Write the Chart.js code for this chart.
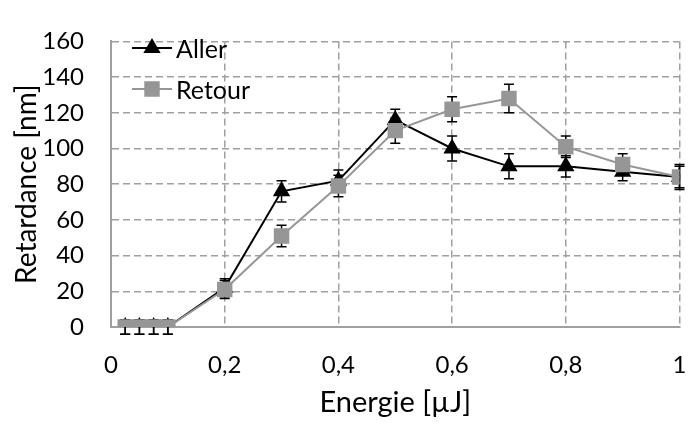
<!DOCTYPE html>
<html>
<head>
<meta charset="utf-8">
<style>
  html, body { margin: 0; padding: 0; background: #fff; }
  #wrap { width: 691px; height: 424px; }
</style>
<script src="https://cdn.jsdelivr.net/npm/chart.js@4.4.1/dist/chart.umd.min.js"></script>
</head>
<body>
<div id="wrap"><canvas id="retardChart" width="691" height="424"></canvas></div>
<script>
// Energie en µJ et retardance mesurée (nm), aller puis retour
const energie = [0.025, 0.05, 0.075, 0.1, 0.2, 0.3, 0.4, 0.5, 0.6, 0.7, 0.8, 0.9, 1.0];
const aller = [0, 0, 0, 0, 22, 76, 82, 116, 100, 90, 90, 87, 84];
const allerErr = [4, 4, 4, 4, 5, 6, 6, 6, 7, 7, 6, 5, 6];
const retour = [0, 0, 0, 0, 21, 51, 79, 110, 122, 128, 101, 91, 84];
const retourErr = [4, 4, 4, 4, 5, 6, 6, 7, 7, 8, 6, 6, 7];
const seriesNames = ['Aller', 'Retour'];

const FONT = 'Lato';
const GRIS = '#969696';
const GRILLE = '#a0a0a0';

// barres d'erreur noires avec petits chapeaux
const errorBars = {
    id: 'errorBars',
    beforeDatasetsDraw(chart) {
        const c = chart.ctx;
        const y = chart.scales.y;
        c.save();
        c.strokeStyle = '#000';
        c.lineWidth = 1.5;
        chart.data.datasets.forEach((ds, di) => {
            const meta = chart.getDatasetMeta(di);
            meta.data.forEach((pt, i) => {
                const v = ds.data[i].y, e = ds.err[i];
                const top = y.getPixelForValue(v + e);
                const bot = y.getPixelForValue(v - e);
                c.beginPath();
                c.moveTo(pt.x, top); c.lineTo(pt.x, bot);
                c.moveTo(pt.x - 5, top); c.lineTo(pt.x + 5, top);
                c.moveTo(pt.x - 5, bot); c.lineTo(pt.x + 5, bot);
                c.stroke();
            });
        });
        c.restore();
    }
};

// légende dans le coin haut gauche, comme sur Excel
const legendeInterne = {
    id: 'legendeInterne',
    afterDraw(chart) {
        const c = chart.ctx;
        const left = chart.chartArea.left + 21;
        const rows = [48, 89];
        c.save();
        chart.data.datasets.forEach((ds, di) => {
            const yy = rows[di];
            c.strokeStyle = ds.borderColor;
            c.lineWidth = 2;
            c.beginPath();
            c.moveTo(left, yy); c.lineTo(left + 40, yy);
            c.stroke();
            c.fillStyle = ds.pointBackgroundColor;
            c.strokeStyle = ds.pointBorderColor;
            Chart.helpers.drawPoint(c, {
                pointStyle: ds.pointStyle, radius: ds.pointRadius, borderWidth: 1
            }, left + 20, yy);
            c.fillStyle = '#000';
            c.font = '25px ' + FONT;
            c.textBaseline = 'middle';
            c.fillText(ds.label, left + 44, yy + 2);
        });
        c.restore();
    }
};

const ctx = document.getElementById('retardChart');

new Chart(ctx, {
    type: 'line',
    data: {
        datasets: [{
            label: seriesNames[0],
            data: energie.map((x, i) => ({ x: x, y: aller[i] })),
            err: allerErr,
            borderColor: '#000',
            borderWidth: 2,
            pointStyle: 'triangle',
            pointRadius: 8,
            pointBackgroundColor: '#000',
            pointBorderColor: '#000',
            order: 1
        }, {
            label: seriesNames[1],
            data: energie.map((x, i) => ({ x: x, y: retour[i] })),
            err: retourErr,
            borderColor: GRIS,
            borderWidth: 2,
            pointStyle: 'rect',
            pointRadius: 9.5,
            pointBackgroundColor: GRIS,
            pointBorderColor: GRIS,
            order: 0
        }]
    },
    options: {
        responsive: false,
        animation: false,
        layout: { padding: { top: 19, right: 7, left: 0, bottom: 0 } },
        plugins: {
            legend: { display: false },
            tooltip: { enabled: false }
        },
        scales: {
            x: {
                type: 'linear',
                min: 0,
                max: 1,
                afterFit(s) {
                    s.height = 97;
                    // le padding des ticks ne doit pas rétrécir la zone du graphe
                    s.paddingLeft = 0;
                    s.paddingRight = 0;
                },
                ticks: {
                    stepSize: 0.2,
                    padding: 24,
                    color: '#000',
                    font: { family: FONT, size: 24 },
                    callback: v => String(Math.round(v * 10) / 10).replace('.', ',')
                },
                grid: { color: GRILLE, lineWidth: 1.5, drawTicks: false },
                border: { display: true, color: GRILLE, width: 2, dash: [7, 4] },
                title: {
                    display: true,
                    text: 'Energie [µJ]',
                    color: '#000',
                    font: { family: FONT, size: 29 },
                    padding: { top: 0, bottom: 4 }
                }
            },
            y: {
                min: 0,
                max: 160,
                afterFit(s) { s.width = 111; },
                ticks: {
                    stepSize: 20,
                    padding: 27,
                    color: '#000',
                    font: { family: FONT, size: 24 }
                },
                grid: { color: GRILLE, lineWidth: 1.5, drawTicks: false },
                border: { display: true, color: GRILLE, width: 2, dash: [7, 4] },
                title: {
                    display: true,
                    text: 'Retardance [nm]',
                    color: '#000',
                    font: { family: FONT, size: 28 },
                    padding: { top: 10, bottom: 0 }
                }
            }
        }
    },
    plugins: [errorBars, legendeInterne]
});
</script>
</body>
</html>
